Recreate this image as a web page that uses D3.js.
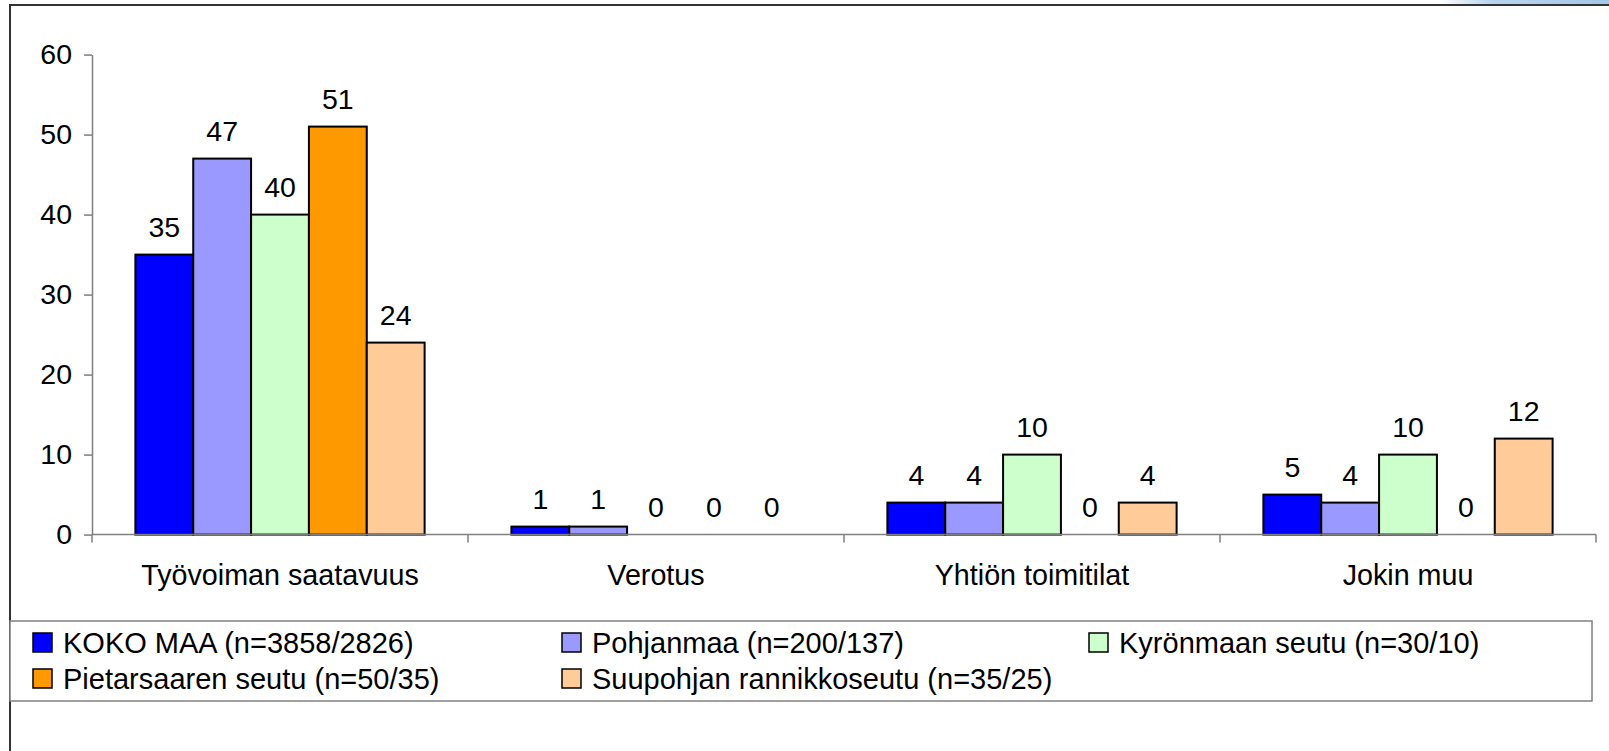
<!DOCTYPE html>
<html>
<head>
<meta charset="utf-8">
<script src="https://cdn.jsdelivr.net/npm/d3@7"></script>
<style>
  html, body { margin: 0; padding: 0; background: #fff; }
  svg { display: block; }
  text { font-family: "Liberation Sans", Arial, sans-serif; fill: #000; }
</style>
</head>
<body>
<script>
const categories = ["Työvoiman saatavuus", "Verotus", "Yhtiön toimitilat", "Jokin muu"];
const seriesNames = [
  "KOKO MAA (n=3858/2826)",
  "Pohjanmaa (n=200/137)",
  "Kyrönmaan seutu (n=30/10)",
  "Pietarsaaren seutu (n=50/35)",
  "Suupohjan rannikkoseutu (n=35/25)"
];
const seriesColors = ["#0000FF", "#9999FF", "#CCFFCC", "#FF9900", "#FFCC99"];
const kokoMaa = [35, 1, 4, 5];
const pohjanmaa = [47, 1, 4, 4];
const kyronmaa = [40, 0, 10, 10];
const pietarsaari = [51, 0, 0, 0];
const suupohja = [24, 0, 4, 12];
const seriesValues = [kokoMaa, pohjanmaa, kyronmaa, pietarsaari, suupohja];
const yTicks = [0, 10, 20, 30, 40, 50, 60];

const W = 1609, H = 751;
const svg = d3.select("body").append("svg").attr("width", W).attr("height", H);

// top-right gradient strip
const defs = svg.append("defs");
const grad = defs.append("linearGradient").attr("id", "topgrad").attr("x1", "0%").attr("x2", "100%");
grad.append("stop").attr("offset", "0%").attr("stop-color", "#ffffff");
grad.append("stop").attr("offset", "30%").attr("stop-color", "#b8d4ee");
grad.append("stop").attr("offset", "100%").attr("stop-color", "#a4c6e8");
svg.append("rect").attr("x", 1440).attr("y", 0).attr("width", W - 1440).attr("height", 5).attr("fill", "url(#topgrad)");

// chart area border
svg.append("rect").attr("x", 10).attr("y", 5).attr("width", W + 20).attr("height", H + 20)
  .attr("fill", "#fff").attr("stroke", "#333").attr("stroke-width", 2);

const x0 = d3.scaleBand().domain(categories).range([92, 1596]).paddingInner(0).paddingOuter(0);
const x1 = d3.scaleBand().domain(d3.range(seriesNames.length)).range([0, x0.bandwidth()])
  .paddingInner(0).paddingOuter(0.75);
const y = d3.scaleLinear().domain([0, 60]).range([534.6, 54.6]);

const axisColor = "#7f7f7f";

// y axis
const yAxis = svg.append("g").attr("transform", "translate(92,0)")
  .call(d3.axisLeft(y).tickValues(yTicks).tickSize(8).tickPadding(12).tickSizeOuter(0));
yAxis.select(".domain").attr("stroke", axisColor).attr("stroke-width", 1.5);
yAxis.selectAll(".tick line").attr("stroke", axisColor).attr("stroke-width", 1.5);
yAxis.selectAll(".tick text").style("font-size", "28.5px").attr("fill", "#000")
  .style("font-family", '"Liberation Sans", Arial, sans-serif');

// bars
const groups = svg.append("g").selectAll("g").data(categories).join("g")
  .attr("transform", c => `translate(${x0(c)},0)`);
groups.selectAll("rect").data((c, ci) => seriesValues.map((vals, si) => ({ si, v: vals[ci] })))
  .join("rect")
  .filter(d => d.v > 0)
  .attr("x", d => x1(d.si))
  .attr("width", x1.bandwidth())
  .attr("y", d => y(d.v))
  .attr("height", d => y(0) - y(d.v))
  .attr("fill", d => seriesColors[d.si])
  .attr("stroke", "#000").attr("stroke-width", 2);

// x axis line + ticks at band boundaries
const xg = svg.append("g");
xg.append("line").attr("x1", 92).attr("x2", 1596).attr("y1", y(0)).attr("y2", y(0))
  .attr("stroke", axisColor).attr("stroke-width", 1.5);
const boundaries = categories.map(c => x0(c)).concat([x0.range()[1]]);
xg.selectAll("line.tk").data(boundaries).join("line").attr("class", "tk")
  .attr("x1", d => d).attr("x2", d => d).attr("y1", y(0)).attr("y2", y(0) + 8)
  .attr("stroke", axisColor).attr("stroke-width", 1.5);
xg.selectAll("text").data(categories).join("text")
  .attr("x", c => x0(c) + x0.bandwidth() / 2).attr("y", 575)
  .attr("text-anchor", "middle").attr("dominant-baseline", "central")
  .style("font-size", "28.7px").text(c => c);

// data labels
groups.selectAll("text").data((c, ci) => seriesValues.map((vals, si) => ({ si, v: vals[ci] })))
  .join("text")
  .attr("x", d => x1(d.si) + x1.bandwidth() / 2)
  .attr("y", d => y(d.v) - 18)
  .attr("text-anchor", "middle")
  .style("font-size", "28.5px")
  .text(d => d.v);

// legend
svg.append("rect").attr("x", 10).attr("y", 621).attr("width", 1582).attr("height", 80)
  .attr("fill", "#fff").attr("stroke", "#808080").attr("stroke-width", 1.5);
const legendCols = [33, 562, 1089];
const legendRows = [642.5, 678.5];
const leg = svg.append("g").selectAll("g").data(seriesNames).join("g")
  .attr("transform", (d, i) => `translate(${legendCols[i % 3]},${legendRows[Math.floor(i / 3)]})`);
leg.append("rect").attr("x", 0).attr("y", -9.5).attr("width", 19).attr("height", 19)
  .attr("fill", (d, i) => seriesColors[i]).attr("stroke", "#000").attr("stroke-width", 1.5);
leg.append("text").attr("x", 30).attr("y", 0).attr("dominant-baseline", "central")
  .style("font-size", "29px").text(d => d);
</script>
</body>
</html>
